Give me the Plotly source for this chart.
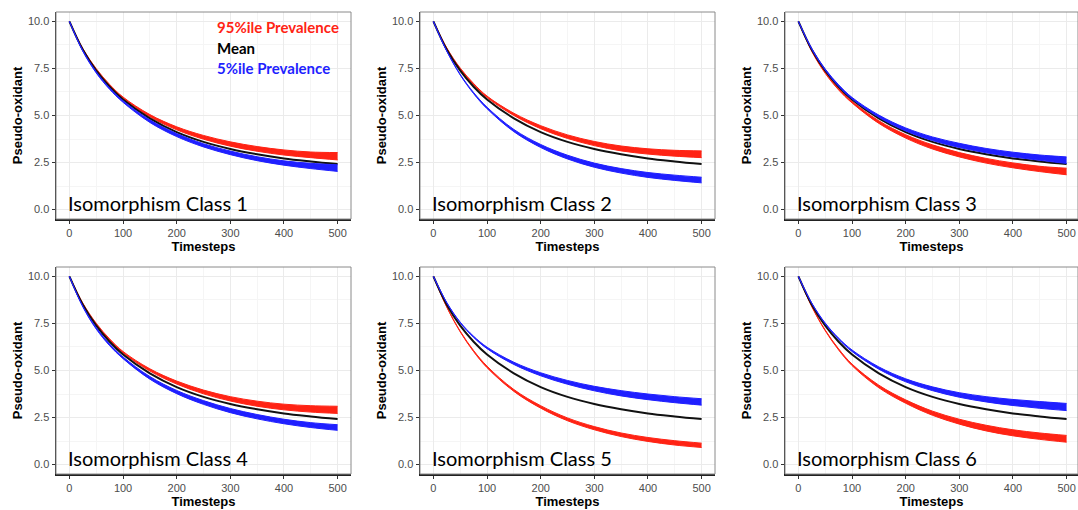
import plotly.graph_objects as go

# ---------------- data ----------------
timesteps = [0, 25, 50, 75, 100, 150, 200, 250, 300, 350, 400, 450, 500]
mean_curve = [10, 8.49, 7.38, 6.53, 5.85, 4.85, 4.12, 3.6, 3.22, 2.94, 2.72, 2.56, 2.42]

c1_red_lo = [10, 8.52, 7.42, 6.57, 5.90, 4.93, 4.24, 3.74, 3.37, 3.10, 2.90, 2.76, 2.64]
c1_red_hi = [10, 8.56, 7.49, 6.65, 5.98, 5.05, 4.40, 3.94, 3.60, 3.35, 3.17, 3.06, 3.03]
c1_blue_lo = [10, 8.41, 7.26, 6.39, 5.70, 4.63, 3.88, 3.33, 2.92, 2.60, 2.36, 2.18, 2.03]
c1_blue_hi = [10, 8.46, 7.33, 6.47, 5.79, 4.77, 4.04, 3.50, 3.11, 2.81, 2.59, 2.46, 2.38]

c2_red_lo = [10, 8.55, 7.46, 6.62, 5.95, 5.00, 4.30, 3.78, 3.40, 3.12, 2.95, 2.84, 2.76]
c2_red_hi = [10, 8.59, 7.52, 6.70, 6.03, 5.12, 4.46, 3.97, 3.62, 3.38, 3.23, 3.15, 3.12]
c2_blue_lo = [10, 8.41, 7.15, 6.16, 5.36, 4.14, 3.30, 2.69, 2.25, 1.94, 1.71, 1.55, 1.42]
c2_blue_hi = [10, 8.43, 7.19, 6.22, 5.44, 4.26, 3.46, 2.89, 2.47, 2.18, 1.97, 1.83, 1.72]

c3_red_lo = [10, 8.40, 7.24, 6.36, 5.67, 4.58, 3.80, 3.22, 2.80, 2.47, 2.22, 2.02, 1.85]
c3_red_hi = [10, 8.45, 7.31, 6.44, 5.76, 4.72, 3.98, 3.44, 3.03, 2.72, 2.48, 2.30, 2.20]
c3_blue_lo = [10, 8.51, 7.41, 6.55, 5.88, 4.90, 4.18, 3.67, 3.30, 3.02, 2.80, 2.62, 2.45]
c3_blue_hi = [10, 8.56, 7.47, 6.63, 5.96, 5.02, 4.34, 3.86, 3.52, 3.25, 3.05, 2.90, 2.80]

c4_red_lo = [10, 8.54, 7.45, 6.60, 5.93, 4.97, 4.28, 3.76, 3.38, 3.10, 2.91, 2.79, 2.72]
c4_red_hi = [10, 8.58, 7.51, 6.68, 6.01, 5.09, 4.44, 3.96, 3.61, 3.37, 3.21, 3.13, 3.10]
c4_blue_lo = [10, 8.38, 7.20, 6.32, 5.63, 4.54, 3.77, 3.20, 2.76, 2.43, 2.17, 1.97, 1.82]
c4_blue_hi = [10, 8.42, 7.28, 6.41, 5.72, 4.68, 3.94, 3.40, 2.98, 2.66, 2.41, 2.23, 2.12]

c5_red_lo = [10, 8.36, 7.05, 6.00, 5.15, 3.89, 3.00, 2.33, 1.85, 1.49, 1.23, 1.04, 0.91]
c5_red_hi = [10, 8.38, 7.09, 6.06, 5.23, 3.99, 3.13, 2.48, 2.02, 1.68, 1.44, 1.27, 1.14]
c5_blue_lo = [10, 8.59, 7.53, 6.76, 6.16, 5.32, 4.72, 4.27, 3.92, 3.65, 3.45, 3.29, 3.16]
c5_blue_hi = [10, 8.61, 7.57, 6.82, 6.24, 5.44, 4.88, 4.47, 4.16, 3.93, 3.75, 3.61, 3.50]

c6_red_lo = [10, 8.39, 7.11, 6.09, 5.26, 4.08, 3.26, 2.62, 2.15, 1.79, 1.53, 1.34, 1.19]
c6_red_hi = [10, 8.41, 7.15, 6.15, 5.34, 4.22, 3.44, 2.84, 2.41, 2.09, 1.85, 1.68, 1.55]
c6_blue_lo = [10, 8.56, 7.48, 6.66, 6.01, 5.07, 4.40, 3.93, 3.58, 3.33, 3.14, 2.99, 2.87]
c6_blue_hi = [10, 8.58, 7.52, 6.72, 6.09, 5.19, 4.56, 4.13, 3.82, 3.61, 3.46, 3.35, 3.25]

class_labels = ["Isomorphism Class 1", "Isomorphism Class 2", "Isomorphism Class 3",
                "Isomorphism Class 4", "Isomorphism Class 5", "Isomorphism Class 6"]
legend_labels = ["95%ile Prevalence", "Mean", "5%ile Prevalence"]

x_ticks = [0, 100, 200, 300, 400, 500]
y_ticks = [0, 2.5, 5, 7.5, 10]
y_ticktext = ["0.0", "2.5", "5.0", "7.5", "10.0"]

panels = [
    (c1_red_lo, c1_red_hi, c1_blue_lo, c1_blue_hi),
    (c2_red_lo, c2_red_hi, c2_blue_lo, c2_blue_hi),
    (c3_red_lo, c3_red_hi, c3_blue_lo, c3_blue_hi),
    (c4_red_lo, c4_red_hi, c4_blue_lo, c4_blue_hi),
    (c5_red_lo, c5_red_hi, c5_blue_lo, c5_blue_hi),
    (c6_red_lo, c6_red_hi, c6_blue_lo, c6_blue_hi),
]

# ---------------- layout geometry ----------------
W, H = 1078, 510
px_boxes = [(56, 351, 12, 219), (420, 715, 12, 219), (785, 1078, 12, 219),
            (56, 351, 267, 474), (420, 715, 267, 474), (785, 1078, 267, 474)]
x_ranges = [[-25, 525], [-25, 525], [-25, 521.3], [-25, 525], [-25, 525], [-25, 521.3]]

RED = "#ff2314"
BLUE = "#1f1fff"
BLACK = "#111111"

fig = go.Figure()
layout = {}
shapes = []
annotations = []

tickfont = dict(family="Liberation Sans, Arial, sans-serif", size=11, color="#4d4d4d")
titlefont = dict(family="Liberation Sans, Arial, sans-serif", size=13, color="#000000")

for i, (rlo, rhi, blo, bhi) in enumerate(panels):
    n = i + 1
    xa = "x" if n == 1 else f"x{n}"
    ya = "y" if n == 1 else f"y{n}"
    x0, x1, y0, y1 = px_boxes[i]
    common = dict(xaxis=xa, yaxis=ya, x=timesteps, mode="lines",
                  line_shape="spline", showlegend=False, hoverinfo="skip")
    fig.add_trace(go.Scatter(y=rlo, line=dict(color=RED, width=1), **common))
    fig.add_trace(go.Scatter(y=rhi, line=dict(color=RED, width=1), fill="tonexty",
                             fillcolor=RED, **common))
    fig.add_trace(go.Scatter(y=mean_curve, line=dict(color=BLACK, width=2), **common))
    fig.add_trace(go.Scatter(y=blo, line=dict(color=BLUE, width=1), **common))
    fig.add_trace(go.Scatter(y=bhi, line=dict(color=BLUE, width=1), fill="tonexty",
                             fillcolor=BLUE, **common))

    xkey = "xaxis" if n == 1 else f"xaxis{n}"
    ykey = "yaxis" if n == 1 else f"yaxis{n}"
    layout[xkey] = dict(
        domain=[x0 / W, x1 / W], anchor=ya, range=x_ranges[i],
        tickvals=x_ticks, ticks="outside", ticklen=3, tickcolor="#333333",
        tickfont=tickfont, showgrid=True, gridcolor="#ebebeb", gridwidth=1,
        minor=dict(dtick=50, tick0=0, showgrid=True, gridcolor="#f5f5f5", gridwidth=1),
        showline=True, linecolor="#222222", linewidth=1.5, mirror=False,
        zeroline=False, automargin=False, fixedrange=True,
        title=dict(text="<b>Timesteps</b>", font=titlefont, standoff=3),
    )
    layout[ykey] = dict(
        domain=[1 - y1 / H, 1 - y0 / H], anchor=xa, range=[-0.5, 10.5],
        tickvals=y_ticks, ticktext=y_ticktext, ticks="outside", ticklen=3,
        tickcolor="#333333", tickfont=tickfont, showgrid=True, gridcolor="#ebebeb",
        gridwidth=1,
        minor=dict(dtick=1.25, tick0=0, showgrid=True, gridcolor="#f5f5f5", gridwidth=1),
        showline=True, linecolor="#222222", linewidth=1.5, mirror=False,
        zeroline=False, automargin=False, fixedrange=True,
        title=dict(text="<b>Pseudo-oxidant</b>", font=titlefont, standoff=2),
    )
    # panel frame (top / right lighter)
    shapes.append(dict(type="rect", xref=f"{xa} domain", yref=f"{ya} domain",
                       x0=0, x1=1, y0=0, y1=1, line=dict(color="#8a8a8a", width=1),
                       layer="above"))
    annotations.append(dict(xref=xa, yref=ya, x=-7, y=0.35, text=class_labels[i],
                            showarrow=False, xanchor="left", yanchor="middle",
                            font=dict(family="Lato, sans-serif", size=20, color="#000000")))

legend_colors = [RED, "#000000", BLUE]
legend_y = [9.7, 8.6, 7.52]
for lbl, col, yy in zip(legend_labels, legend_colors, legend_y):
    annotations.append(dict(xref="x", yref="y", x=271, y=yy, text=f"<b>{lbl}</b>",
                            showarrow=False, xanchor="left", yanchor="middle",
                            font=dict(family="Lato, sans-serif", size=15, color=col)))

fig.update_layout(
    width=W, height=H, margin=dict(l=0, r=0, t=0, b=0),
    paper_bgcolor="white", plot_bgcolor="white", hovermode=False,
    shapes=shapes, annotations=annotations, **layout,
)

fig.write_html(
    "out.html",
    config={"displayModeBar": False, "staticPlot": True},
    post_script="document.body.style.margin='0px';document.body.style.overflow='hidden';",
)
